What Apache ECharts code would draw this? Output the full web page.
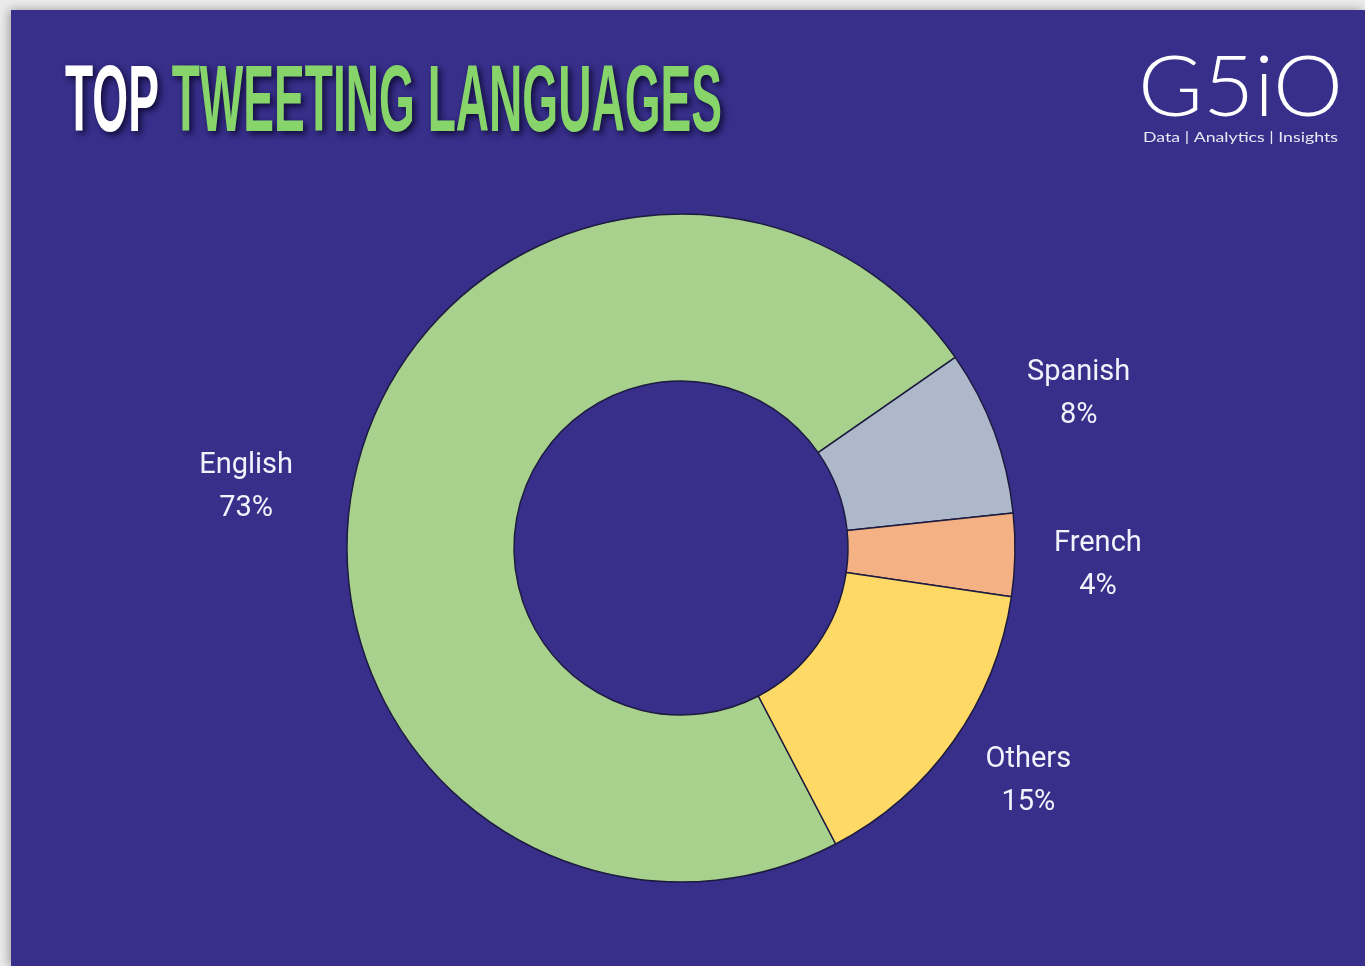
<!DOCTYPE html>
<html>
<head>
<meta charset="utf-8">
<script src="https://cdn.jsdelivr.net/npm/echarts@6/dist/echarts.min.js"></script>
<style>
html,body{margin:0;padding:0;background:#ececec;}
#main{width:1365px;height:966px;}
</style>
</head>
<body>
<div id="main"></div>
<script>
// ---- data ----
var categories = ['English', 'Spanish', 'French', 'Others'];
var shares = [73, 8, 4, 15];
var sliceColors = ['#a9d18e', '#adb9ca', '#f4b183', '#ffd966'];
var titleWhite = 'TOP ';
var titleGreen = 'TWEETING LANGUAGES';
var logoText = 'G5iO';
var logoTagline = 'Data | Analytics | Insights';

// ---- layout ----
var W = 1365, H = 966;
var CX = 681, CY = 548;
var START_ANGLE = 297.6;
var LABEL_R = 420;
var labelNudge = [[-27, 39], [4, -7], [-3, 8], [5, -10]];

function measure(text, font) {
  var c = document.createElement('canvas').getContext('2d');
  c.font = font;
  return c.measureText(text).width;
}

var titleFont = 'bold 95px "Liberation Sans Narrow", "Liberation Sans", Arial, sans-serif';
var titleW = measure(titleWhite + titleGreen, titleFont);
var titleScale = 657 / titleW;
var logoFont = '300 84px Lato, "Open Sans", sans-serif';
var logoScale = 205 / measure(logoText, logoFont);
var tagFont = '400 14px Lato, "Open Sans", sans-serif';
var tagScale = 195 / measure(logoTagline, tagFont);

var total = shares.reduce(function (a, b) { return a + b; }, 0);
function midAngle(i) {
  var before = 0;
  for (var k = 0; k < i; k++) before += shares[k];
  var a = START_ANGLE - (before + shares[i] / 2) / total * 360;
  return a * Math.PI / 180;
}

var chart = echarts.init(document.getElementById('main'), null, {renderer: 'canvas'});
chart.setOption({
  backgroundColor: '#ececec',
  animation: false,
  graphic: [
    {
      type: 'rect', z: -10,
      shape: {x: 11, y: 10, width: W - 11, height: H - 10},
      style: {fill: '#372f8a', shadowBlur: 10, shadowColor: 'rgba(0,0,0,0.35)', shadowOffsetX: -2, shadowOffsetY: 0}
    },
    {
      type: 'text', x: 65, y: 57, scaleX: titleScale, scaleY: 1,
      style: {
        text: '{w|' + titleWhite + '}{g|' + titleGreen + '}',
        font: titleFont,
        rich: {
          w: {fill: '#ffffff', font: titleFont, textShadowColor: 'rgba(10,5,40,0.85)', textShadowBlur: 6, textShadowOffsetX: 3, textShadowOffsetY: 3},
          g: {fill: '#86d46a', font: titleFont, textShadowColor: 'rgba(10,5,40,0.85)', textShadowBlur: 6, textShadowOffsetX: 3, textShadowOffsetY: 3}
        }
      }
    },
    {
      type: 'text', x: 1138, y: 47, scaleX: logoScale,
      style: {text: logoText, font: logoFont, fill: '#ffffff'}
    },
    {
      type: 'text', x: 1143, y: 130, scaleX: tagScale,
      style: {text: logoTagline, font: tagFont, fill: '#e8e8f4'}
    }
  ],
  series: [{
    type: 'pie',
    center: [CX, CY],
    radius: [167, 334],
    startAngle: START_ANGLE,
    clockwise: true,
    avoidLabelOverlap: false,
    itemStyle: {borderColor: '#1d1b40', borderWidth: 1.5},
    emphasis: {disabled: true},
    label: {
      show: true,
      position: 'outside',
      formatter: function (p) { return p.name + '\n' + p.value + '%'; },
      color: '#f2f2fb',
      fontSize: 29,
      lineHeight: 43,
      fontFamily: 'Roboto, "Liberation Sans Narrow", sans-serif',
      align: 'center'
    },
    labelLine: {show: false},
    labelLayout: function (params) {
      var i = params.dataIndex;
      var a = midAngle(i);
      return {
        x: CX + LABEL_R * Math.cos(a) + labelNudge[i][0],
        y: CY - LABEL_R * Math.sin(a) + labelNudge[i][1],
        align: 'center',
        verticalAlign: 'middle'
      };
    },
    data: categories.map(function (c, i) {
      return {name: c, value: shares[i], itemStyle: {color: sliceColors[i]}};
    })
  }]
});
</script>
</body>
</html>
